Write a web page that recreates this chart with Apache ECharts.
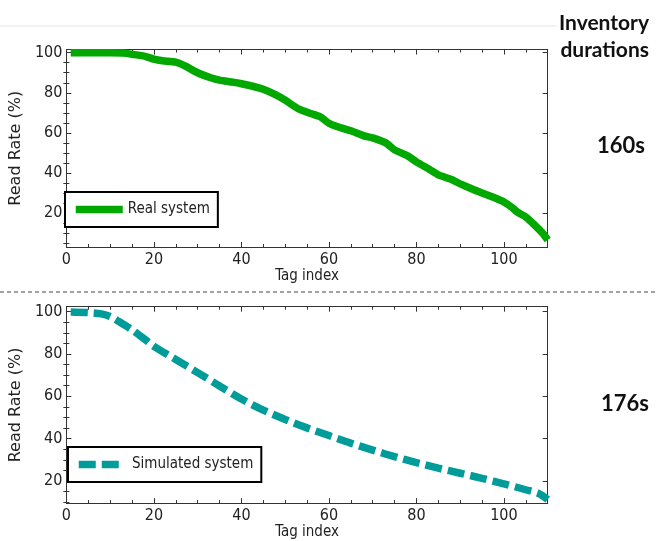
<!DOCTYPE html>
<html><head><meta charset="utf-8">
<script src="https://cdn.jsdelivr.net/npm/echarts@6/dist/echarts.min.js"></script>
<style>html,body{margin:0;padding:0;background:#fff}#c{width:658px;height:541px}</style>
</head><body><div id="c"></div>
<script>
// ---- data ----
const realIdx  = [1,5,10,13,15,18,20,22,25,27,30,33,35,38,40,43,45,48,50,53,56,58,60,62,65,68,70,73,75,78,80,83,85,88,90,93,95,98,100,102,103,105,107,109,110];
const realRate = [100,100,100,99.8,99.2,98.2,96.8,96,95.3,93.5,90,87.5,86.3,85.3,84.5,83,81.7,78.8,76.3,72,69.5,68,64.8,63,61,58.5,57.5,55,51.5,48.5,45.5,41.7,39,36.7,34.5,31.7,30,27.5,25.5,22.5,20.5,18,14,9.5,6.5];
const simIdx   = [1,5,8,10,12,15,18,20,25,30,35,40,45,50,55,60,65,70,75,80,85,90,95,100,105,108,110];
const simRate  = [99.8,99.5,98.9,97.7,95.3,91.4,86.8,83.6,77.4,71.2,64.9,58.7,53.5,49.1,45.1,41.5,37.9,34.6,31.5,28.7,26.1,23.7,21.3,18.7,15.9,14.1,11.3];
const yMajor = [20,40,60,80,100];
const yMinor = [5,10,15,25,30,35,45,50,55,65,70,75,85,90,95];
const xTicks = [0,20,40,60,80,100];
const durations = ['160s','176s'];

const FONT = "'DejaVu Sans Condensed','Liberation Sans Narrow','DejaVu Sans',sans-serif";
const TXT = '#222';
const grids = [
  {left:64, top:49.5, width:483.7, height:197.5, ymin:3, ymax:101.6, nameGap:20},
  {left:64, top:306.7, width:483.7, height:198.3, ymin:9.6, ymax:102.3, nameGap:21}
];
const xAxis = [], yAxis = [];
grids.forEach((g,gi)=>{
  const base = {type:'value', gridIndex:gi, min:0, max:110, interval:20,
    axisLine:{show:true, onZero:false, lineStyle:{color:'#333', width:1}},
    splitLine:{show:false},
    axisTick:{inside:true, length:5, lineStyle:{color:'#333'}},
    minorTick:{show:true, splitNumber:4, length:3, lineStyle:{color:'#333'}},
    axisLabel:{show:true, margin:5, fontSize:16, color:TXT, fontFamily:FONT, customValues:xTicks}};
  xAxis.push(Object.assign({}, base, {position:'bottom', name:'Tag index', nameLocation:'middle', nameGap:g.nameGap,
     nameTextStyle:{fontSize:15, color:TXT, fontFamily:FONT}}));
  xAxis.push(Object.assign({}, base, {position:'top', axisLabel:{show:false}}));
  const ybase = {type:'value', gridIndex:gi, min:g.ymin, max:g.ymax,
    axisLine:{show:true, onZero:false, lineStyle:{color:'#333', width:1}},
    splitLine:{show:false}};
  yAxis.push(Object.assign({}, ybase, {position:'left', name:'Read Rate (%)', nameLocation:'middle', nameGap:31,
     nameTextStyle:{fontSize:16, color:TXT, fontFamily:"'DejaVu Sans',sans-serif"},
     axisTick:{inside:true, length:5, customValues:yMajor, lineStyle:{color:'#333'}},
     axisLabel:{margin:4, fontSize:16, color:TXT, fontFamily:FONT, customValues:yMajor}}));
  yAxis.push(Object.assign({}, ybase, {position:'right',
     axisTick:{inside:true, length:5, customValues:yMajor, lineStyle:{color:'#333'}},
     axisLabel:{show:false}}));
  yAxis.push(Object.assign({}, ybase, {position:'left', axisLine:{show:false},
     axisTick:{inside:true, length:3, customValues:yMinor, lineStyle:{color:'#333'}},
     axisLabel:{show:false}}));
  yAxis.push(Object.assign({}, ybase, {position:'right', axisLine:{show:false},
     axisTick:{inside:true, length:3, customValues:yMinor, lineStyle:{color:'#333'}},
     axisLabel:{show:false}}));
});

const legendBase = {orient:'horizontal', borderColor:'#000', borderWidth:2, borderRadius:0,
  backgroundColor:'#fff', itemGap:5, textStyle:{fontSize:15, color:TXT, fontFamily:FONT},
  lineStyle:{width:'inherit'}, itemStyle:{color:'rgba(0,0,0,0)', borderColor:'rgba(0,0,0,0)', borderWidth:0, opacity:0},
  selectedMode:false};

const option = {
  animation:false,
  backgroundColor:'#fff',
  grid: grids.map(g=>({left:g.left, top:g.top, width:g.width, height:g.height, containLabel:false})),
  xAxis, yAxis,
  legend:[
    Object.assign({}, legendBase, {data:['Real system'], left:65, top:192, padding:[10,8,10,7], itemWidth:47, itemHeight:14}),
    Object.assign({}, legendBase, {data:['Simulated system'], left:68, top:447, padding:[10,8,10,7], itemWidth:44, itemHeight:14,
       formatter:(n)=>' '+n})
  ],
  title:[
    {text:'Inventory', right:4, top:8, textStyle:{fontSize:21, fontWeight:'bold', color:'#111', fontFamily:'Lato'}},
    {text:'durations', right:4, top:35, textStyle:{fontSize:21, fontWeight:'bold', color:'#111', fontFamily:'Lato'}},
    {text:durations[0], left:592, top:130, textStyle:{fontSize:22, fontWeight:'bold', color:'#111', fontFamily:'Lato'}},
    {text:durations[1], left:596, top:388, textStyle:{fontSize:22, fontWeight:'bold', color:'#111', fontFamily:'Lato'}}
  ],
  graphic:[
    {type:'line', shape:{x1:0, y1:26, x2:557, y2:26}, style:{stroke:'#e6e6e6', lineWidth:1}},
    {type:'line', shape:{x1:0, y1:292, x2:656, y2:292}, style:{stroke:'#444', lineWidth:1, lineDash:[4,3]}}
  ],
  series:[
    {name:'Real system', type:'line', xAxisIndex:0, yAxisIndex:0, symbol:'none', smooth:0.2,
     data: realIdx.map((x,i)=>[x, realRate[i]]),
     lineStyle:{color:'#00a800', width:7.5}, itemStyle:{color:'#00a800'}},
    {name:'Simulated system', type:'line', xAxisIndex:2, yAxisIndex:4, symbol:'none', smooth:0.3,
     data: simIdx.map((x,i)=>[x, simRate[i]]),
     lineStyle:{color:'#009c9a', width:7.5, type:[17,6]}, itemStyle:{color:'#009c9a'}}
  ]
};
const chart = echarts.init(document.getElementById('c'), null, {renderer:'canvas'});
chart.setOption(option);
</script></body></html>
